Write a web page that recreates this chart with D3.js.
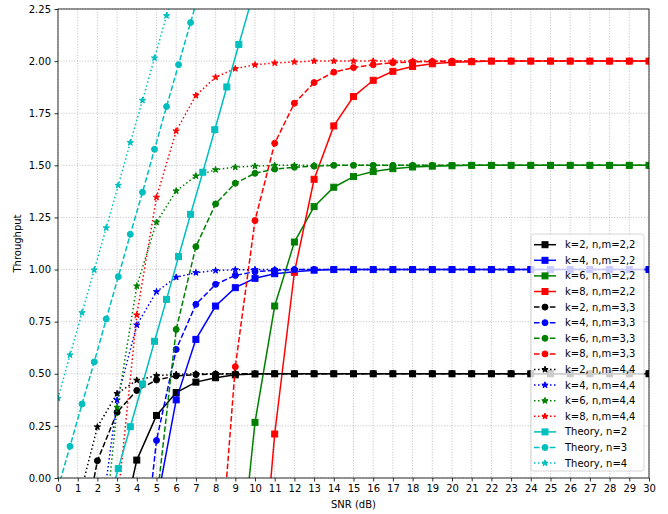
<!DOCTYPE html>
<html><head><meta charset="utf-8">
<script src="https://cdnjs.cloudflare.com/ajax/libs/d3/7.8.5/d3.min.js"></script>
<style>body{margin:0;background:#fff} svg{display:block} text{font-family:"DejaVu Sans",sans-serif;fill:#000}</style>
</head><body><svg id="c" width="668" height="514"></svg>
<script>
// ---------- data ----------
const snr = [0,1,2,3,4,5,6,7,8,9,10,11,12,13,14,15,16,17,18,19,20,21,22,23,24,25,26,27,28,29,30];
const xTicks = [0,1,2,3,4,5,6,7,8,9,10,11,12,13,14,15,16,17,18,19,20,21,22,23,24,25,26,27,28,29,30];
const yTicks = [0,0.25,0.5,0.75,1.0,1.25,1.5,1.75,2.0,2.25];

const k2_22 = [null,null,null,-0.34,0.086,0.30,0.41,0.46,0.481,0.495,0.499,0.5,0.5,0.5,0.5,0.5,0.5,0.5,0.5,0.5,0.5,0.5,0.5,0.5,0.5,0.5,0.5,0.5,0.5,0.5,0.5];
const k4_22 = [null,null,null,null,null,-0.13,0.375,0.665,0.825,0.913,0.958,0.98,0.99,0.997,1,1,1,1,1,1,1,1,1,1,1,1,1,1,1,1,1];
const k6_22 = [null,null,null,null,null,null,null,null,null,-0.65,0.267,0.825,1.132,1.302,1.395,1.446,1.47,1.484,1.492,1.496,1.498,1.5,1.5,1.5,1.5,1.5,1.5,1.5,1.5,1.5,1.5];
const k8_22 = [null,null,null,null,null,null,null,null,null,null,-0.9,0.211,0.987,1.433,1.689,1.83,1.908,1.951,1.974,1.987,1.994,1.997,2,2,2,2,2,2,2,2,2];
const k2_33 = [null,-0.41,0.083,0.315,0.42,0.47,0.49,0.496,0.499,0.5,0.5,0.5,0.5,0.5,0.5,0.5,0.5,0.5,0.5,0.5,0.5,0.5,0.5,0.5,0.5,0.5,0.5,0.5,0.5,0.5,0.5];
const k4_33 = [null,null,null,null,-0.68,0.18,0.617,0.833,0.929,0.972,0.99,0.996,1,1,1,1,1,1,1,1,1,1,1,1,1,1,1,1,1,1,1];
const k6_33 = [null,null,null,null,null,-0.12,0.713,1.11,1.315,1.414,1.462,1.482,1.491,1.496,1.5,1.5,1.5,1.5,1.5,1.5,1.5,1.5,1.5,1.5,1.5,1.5,1.5,1.5,1.5,1.5,1.5];
const k8_33 = [null,null,null,null,null,null,null,null,-0.68,0.534,1.235,1.606,1.798,1.897,1.947,1.969,1.983,1.992,1.996,1.998,2,2,2,2,2,2,2,2,2,2,2];
const k2_44 = [null,-0.125,0.245,0.405,0.469,0.491,0.497,0.5,0.5,0.5,0.5,0.5,0.5,0.5,0.5,0.5,0.5,0.5,0.5,0.5,0.5,0.5,0.5,0.5,0.5,0.5,0.5,0.5,0.5,0.5,0.5];
const k4_44 = [null,null,-0.33,0.374,0.734,0.894,0.963,0.985,0.995,0.999,1,1,1,1,1,1,1,1,1,1,1,1,1,1,1,1,1,1,1,1,1];
const k6_44 = [null,null,-0.6,0.339,0.921,1.227,1.377,1.449,1.479,1.491,1.496,1.5,1.5,1.5,1.5,1.5,1.5,1.5,1.5,1.5,1.5,1.5,1.5,1.5,1.5,1.5,1.5,1.5,1.5,1.5,1.5];
const k8_44 = [null,null,null,-0.14,0.782,1.347,1.665,1.835,1.923,1.964,1.982,1.991,1.996,2,2,2,2,2,2,2,2,2,2,2,2,2,2,2,2,2,2];

const snrTheory = [0,0.61,1.22,1.84,2.45,3.06,3.67,4.29,4.90,5.51,6.12,6.73,7.35,7.96,8.57,9.18,9.80];
const theoryN2 = [null,null,null,null,-0.16,0.045,0.246,0.451,0.656,0.857,1.062,1.265,1.467,1.671,1.876,2.08,2.285];
const theoryN3 = [-0.05,0.152,0.355,0.557,0.763,0.966,1.169,1.371,1.577,1.782,1.983,2.185,2.39,null,null,null,null];
const theoryN4 = [0.382,0.59,0.793,0.998,1.2,1.404,1.609,1.812,2.015,2.218,2.42,null,null,null,null,null,null];

const labels = ["k=2, n,m=2,2","k=4, n,m=2,2","k=6, n,m=2,2","k=8, n,m=2,2",
  "k=2, n,m=3,3","k=4, n,m=3,3","k=6, n,m=3,3","k=8, n,m=3,3",
  "k=2, n,m=4,4","k=4, n,m=4,4","k=6, n,m=4,4","k=8, n,m=4,4",
  "Theory, n=2","Theory, n=3","Theory, n=4"];

// ---------- style ----------
const C = {k:"#000000", b:"#0000ff", g:"#008000", r:"#ff0000", c:"#00bfbf"};
const series = [
  {x:snr, y:k2_22, color:C.k, dash:null, marker:"s"},
  {x:snr, y:k4_22, color:C.b, dash:null, marker:"s"},
  {x:snr, y:k6_22, color:C.g, dash:null, marker:"s"},
  {x:snr, y:k8_22, color:C.r, dash:null, marker:"s"},
  {x:snr, y:k2_33, color:C.k, dash:"5.55,2.4", marker:"o"},
  {x:snr, y:k4_33, color:C.b, dash:"5.55,2.4", marker:"o"},
  {x:snr, y:k6_33, color:C.g, dash:"5.55,2.4", marker:"o"},
  {x:snr, y:k8_33, color:C.r, dash:"5.55,2.4", marker:"o"},
  {x:snr, y:k2_44, color:C.k, dash:"1.5,2.5", marker:"*"},
  {x:snr, y:k4_44, color:C.b, dash:"1.5,2.5", marker:"*"},
  {x:snr, y:k6_44, color:C.g, dash:"1.5,2.5", marker:"*"},
  {x:snr, y:k8_44, color:C.r, dash:"1.5,2.5", marker:"*"},
  {x:snrTheory, y:theoryN2, color:C.c, dash:null, marker:"s"},
  {x:snrTheory, y:theoryN3, color:C.c, dash:"5.55,2.4", marker:"o"},
  {x:snrTheory, y:theoryN4, color:C.c, dash:"1.5,2.5", marker:"*"}
];
series.forEach((s,i)=>s.label=labels[i]);

const L=58, R=649, T=9, B=478;
const x = d3.scaleLinear().domain([0,30]).range([L,R]);
const y = d3.scaleLinear().domain([0,2.25]).range([B,T]);
const svg = d3.select("#c");

svg.append("defs").append("clipPath").attr("id","clip")
  .append("rect").attr("x",L).attr("y",T).attr("width",R-L).attr("height",B-T);

// grid
const grid = svg.append("g");
grid.selectAll(".gx").data(xTicks).join("line")
  .attr("x1",d=>x(d)).attr("x2",d=>x(d)).attr("y1",T).attr("y2",B)
  .attr("stroke","#b8b8b8").attr("stroke-width",0.9).attr("stroke-dasharray","1,1.7");
grid.selectAll(".gy").data(yTicks).join("line")
  .attr("x1",L).attr("x2",R).attr("y1",d=>y(d)).attr("y2",d=>y(d))
  .attr("stroke","#b8b8b8").attr("stroke-width",0.9).attr("stroke-dasharray","1,1.7");

function starPath(R0){
  const r0 = R0*0.381966; let p=[];
  for(let i=0;i<10;i++){
    const a = -Math.PI/2 + i*Math.PI/5;
    const rr = i%2===0?R0:r0;
    p.push([rr*Math.cos(a), rr*Math.sin(a)]);
  }
  return "M"+p.map(q=>q[0].toFixed(3)+","+q[1].toFixed(3)).join("L")+"Z";
}
function drawMarker(g, type, cx, cy, color){
  if(type==="s"){
    g.append("rect").attr("x",cx-3).attr("y",cy-3).attr("width",6).attr("height",6)
      .attr("fill",color).attr("stroke",color).attr("stroke-width",1);
  } else if(type==="o"){
    g.append("circle").attr("cx",cx).attr("cy",cy).attr("r",3)
      .attr("fill",color).attr("stroke",color).attr("stroke-width",1);
  } else {
    g.append("path").attr("d",starPath(3.3)).attr("transform",`translate(${cx},${cy})`)
      .attr("fill",color).attr("stroke",color).attr("stroke-width",1).attr("stroke-linejoin","miter");
  }
}

const plot = svg.append("g").attr("clip-path","url(#clip)");
series.forEach(s=>{
  const pts = s.x.map((xv,i)=>[xv, s.y[i]]);
  const line = d3.line().defined(d=>d[1]!==null).x(d=>x(d[0])).y(d=>y(d[1]));
  const g = plot.append("g");
  g.append("path").attr("d",line(pts)).attr("fill","none").attr("stroke",s.color)
    .attr("stroke-width",1.5).attr("stroke-dasharray",s.dash);
  pts.filter(d=>d[1]!==null).forEach(d=>drawMarker(g,s.marker,x(d[0]),y(d[1]),s.color));
});

// axes
const xAxis = d3.axisBottom(x).tickValues(xTicks).tickFormat(d3.format("d")).tickSizeInner(3.5).tickSizeOuter(0).tickPadding(3.5);
const yAxis = d3.axisLeft(y).tickValues(yTicks).tickFormat(d3.format(".2f")).tickSizeInner(3.5).tickSizeOuter(0).tickPadding(3.5);
const gx = svg.append("g").attr("transform",`translate(0,${B})`).call(xAxis);
const gy = svg.append("g").attr("transform",`translate(${L},0)`).call(yAxis);
[gx,gy].forEach(g=>{
  g.select(".domain").remove();
  g.selectAll("line").attr("stroke","#000").attr("stroke-width",0.8);
  g.selectAll("text").attr("font-size",10).attr("font-family","DejaVu Sans").attr("fill","#000");
});
// spines
svg.append("rect").attr("x",L).attr("y",T).attr("width",R-L).attr("height",B-T)
  .attr("fill","none").attr("stroke","#000").attr("stroke-width",0.8);

svg.append("text").attr("x",353.5).attr("y",508).attr("text-anchor","middle").attr("font-size",10).text("SNR (dB)");
svg.append("text").attr("transform","translate(17,243.5) rotate(-90)").attr("text-anchor","middle")
  .attr("dy","0.35em").attr("font-size",10).text("Throughput");

// legend
const lg = svg.append("g");
lg.append("rect").attr("x",531).attr("y",234).attr("width",113).attr("height",237).attr("rx",2.5)
  .attr("fill","#fff").attr("fill-opacity",0.8).attr("stroke","#cccccc").attr("stroke-width",0.8);
series.forEach((s,i)=>{
  const cy = 244.7 + i*15.6;
  lg.append("line").attr("x1",534).attr("x2",556).attr("y1",cy).attr("y2",cy)
    .attr("stroke",s.color).attr("stroke-width",1.5).attr("stroke-dasharray",s.dash);
  drawMarker(lg, s.marker, 545, cy, s.color);
  lg.append("text").attr("x",565).attr("y",cy).attr("dy","0.35em").attr("font-size",10).text(s.label);
});
</script></body></html>
